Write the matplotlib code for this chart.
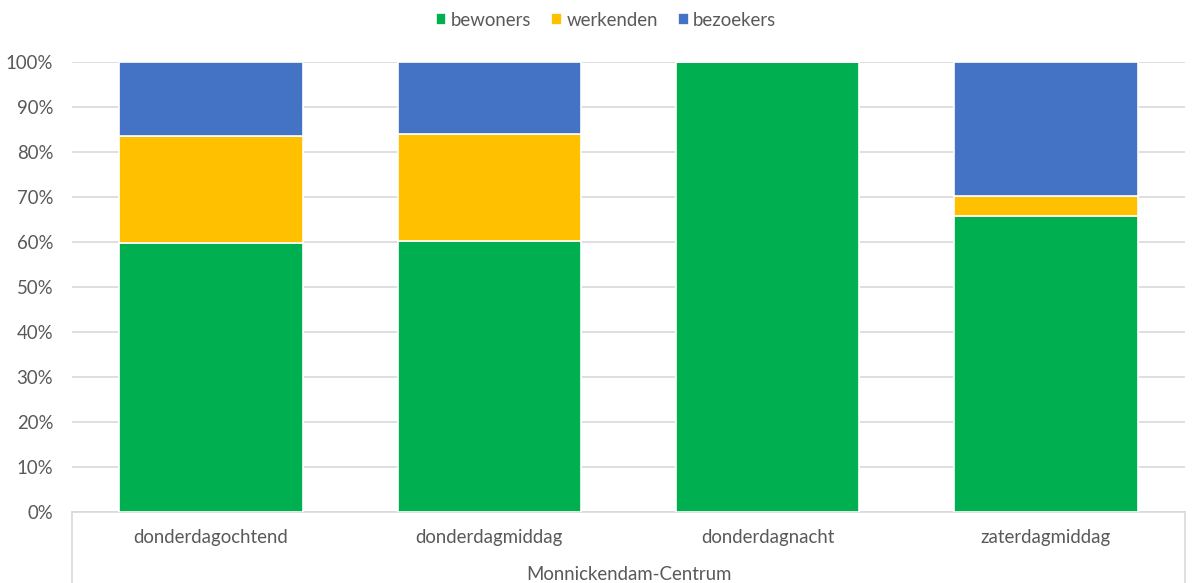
import numpy as np
import matplotlib
matplotlib.use('Agg')
import matplotlib.pyplot as plt
from matplotlib.lines import Line2D

plt.rcParams['font.family'] = ['Lato', 'DejaVu Sans']

# data (fractions)
momenten = ['donderdagochtend', 'donderdagmiddag', 'donderdagnacht', 'zaterdagmiddag']
groep = 'Monnickendam-Centrum'
bewoners = [0.597, 0.603, 1.000, 0.658]
werkenden = [0.239, 0.237, 0.000, 0.045]
bezoekers = [0.164, 0.160, 0.000, 0.297]
reeksen = ['bewoners', 'werkenden', 'bezoekers']
kleuren = ['#00B050', '#FFC000', '#4472C4']

txt = '#595959'
fs = 13.4
W, H = 1192, 583
fig = plt.figure(figsize=(W / 100, H / 100), dpi=100)
ax = fig.add_axes([72 / W, (H - 512) / H, (1185 - 72) / W, 450 / H])

x = np.arange(len(momenten))
onder = np.zeros(len(momenten))
for naam, vals, kl in zip(reeksen, [bewoners, werkenden, bezoekers], kleuren):
    ax.bar(x, vals, width=0.66, bottom=onder, color=kl, edgecolor='white',
           linewidth=1.2, label=naam, zorder=3)
    onder += np.array(vals)

ax.set_xlim(-0.5, len(momenten) - 0.5)
ax.set_ylim(0, 1)
ax.set_yticks(np.arange(0, 1.01, 0.1))
ax.set_yticklabels(['%d%%' % round(v * 100) for v in np.arange(0, 1.01, 0.1)])
ax.yaxis.grid(True, color='#D9D9D9', linewidth=1.2, zorder=0)
ax.tick_params(axis='y', length=0, pad=13.5, labelsize=fs, labelcolor=txt)
ax.set_xticks(x)
ax.set_xticklabels(momenten)
ax.tick_params(axis='x', length=0, pad=12.5, labelsize=fs, labelcolor=txt)
for s in ['left', 'right', 'top']:
    ax.spines[s].set_visible(False)
ax.spines['bottom'].set_color('#D9D9D9')
ax.spines['bottom'].set_linewidth(1.2)

# box around the category axis
for xa in [0, 1]:
    ax.add_line(Line2D([xa, xa], [0, -0.2], transform=ax.transAxes, color='#D9D9D9',
                       linewidth=1.2, clip_on=False))
ax.text(0.5, -0.138, groep, transform=ax.transAxes, ha='center', va='center',
        fontsize=fs, color=txt)

leg = fig.legend(loc='center', bbox_to_anchor=(606 / W, (H - 20) / H), ncol=3, frameon=False,
                 fontsize=fs, handlelength=0.55, handleheight=0.55, handletextpad=0.25,
                 columnspacing=1.1, labelcolor=txt)

fig.savefig('out.png', dpi=100)
